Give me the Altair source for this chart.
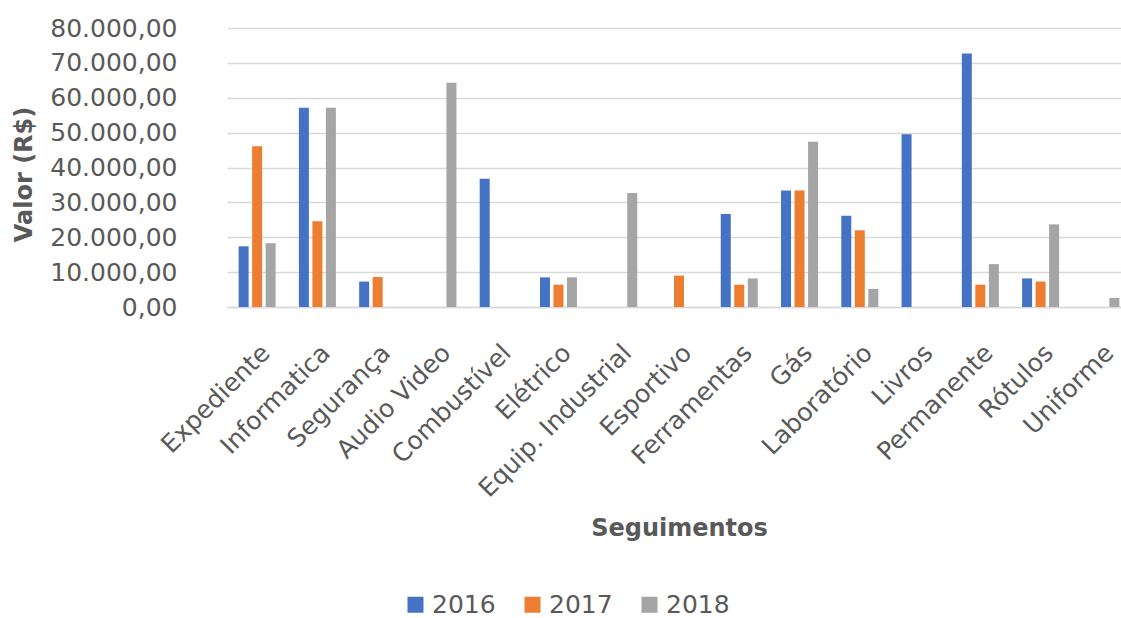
import altair as alt
import pandas as pd

# Spending per segment (R$), by year
categories = [
    "Expediente", "Informatica", "Segurança", "Audio Video", "Combustível",
    "Elétrico", "Equip. Industrial", "Esportivo", "Ferramentas", "Gás",
    "Laboratório", "Livros", "Permanente", "Rótulos", "Uniforme",
]
years = ["2016", "2017", "2018"]
v2016 = [17400, 57100, 7300, 0, 36800, 8500, 0, 0, 26700, 33400, 26200, 49500, 72700, 8200, 0]
v2017 = [46100, 24600, 8600, 0, 0, 6400, 0, 9000, 6400, 33400, 22000, 0, 6400, 7300, 0]
v2018 = [18300, 57100, 0, 64300, 0, 8500, 32700, 0, 8200, 47400, 5200, 0, 12300, 23700, 2600]
colors = ["#4472C4", "#ED7D31", "#A5A5A5"]

rows = []
for year, series in zip(years, [v2016, v2017, v2018]):
    for cat, val in zip(categories, series):
        if val > 0:
            rows.append({"Seguimento": cat, "Ano": year, "Valor": val})
df = pd.DataFrame(rows)

label_color = "#595959"
grid_color = "#D9D9D9"

# Brazilian number format: 80.000,00
br_fmt = ("replace(replace(replace(format(datum.value, ',.2f'), ',', '#'), '.', ','), '#', '.')")

chart = alt.Chart(df).mark_bar().encode(
    x=alt.X(
        "Seguimento:N",
        sort=categories,
        scale=alt.Scale(domain=categories, range=[0, 904], paddingInner=0.386, paddingOuter=0.193),
        axis=alt.Axis(
            title="Seguimentos",
            titleFontSize=24,
            titleFontWeight="bold",
            titleColor=label_color,
            titleX=452,
            titleY=228,
            titleBaseline="alphabetic",
            titleAlign="center",
            labelAngle=-45,
            labelAlign="right",
            labelBaseline="top",
            labelPadding=33,
            labelFontSize=25,
            labelColor=label_color,
            labelLimit=0,
            labelOverlap=False,
            ticks=False,
            tickSize=0,
            domainColor=grid_color,
            domainWidth=1.5,
            grid=False,
        ),
    ),
    xOffset=alt.XOffset("Ano:N", sort=years, scale=alt.Scale(paddingInner=0.26, paddingOuter=0)),
    y=alt.Y(
        "Valor:Q",
        scale=alt.Scale(domain=[0, 80000], nice=False),
        axis=alt.Axis(
            title="Valor (R$)",
            titleFontSize=24,
            titleFontWeight="bold",
            titleColor=label_color,
            titleAngle=270,
            titleX=-196,
            titleY=146,
            titleBaseline="alphabetic",
            titleAlign="center",
            values=[0, 10000, 20000, 30000, 40000, 50000, 60000, 70000, 80000],
            labelExpr=br_fmt,
            labelFontSize=25,
            labelColor=label_color,
            labelPadding=50,
            ticks=False,
            tickSize=0,
            domain=False,
            grid=True,
            gridColor=grid_color,
            gridWidth=1.5,
        ),
    ),
    color=alt.Color(
        "Ano:N",
        sort=years,
        scale=alt.Scale(domain=years, range=colors),
        legend=alt.Legend(
            title=None,
            orient="none",
            legendX=176,
            legendY=564,
            direction="horizontal",
            symbolType="square",
            symbolSize=256,
            symbolStrokeWidth=0,
            labelFontSize=25,
            labelColor=label_color,
            labelOffset=4,
            columnPadding=24,
            padding=0,
        ),
    ),
).properties(
    width=893,
    height=279,
    autosize=alt.AutoSizeParams(type="none"),
    padding={"left": 227, "top": 28, "right": 1, "bottom": 311},
).configure(
    font="DejaVu Sans",
).configure_view(
    stroke=None,
)

chart.save("out.html", embed_options={"renderer": "svg", "actions": False})
